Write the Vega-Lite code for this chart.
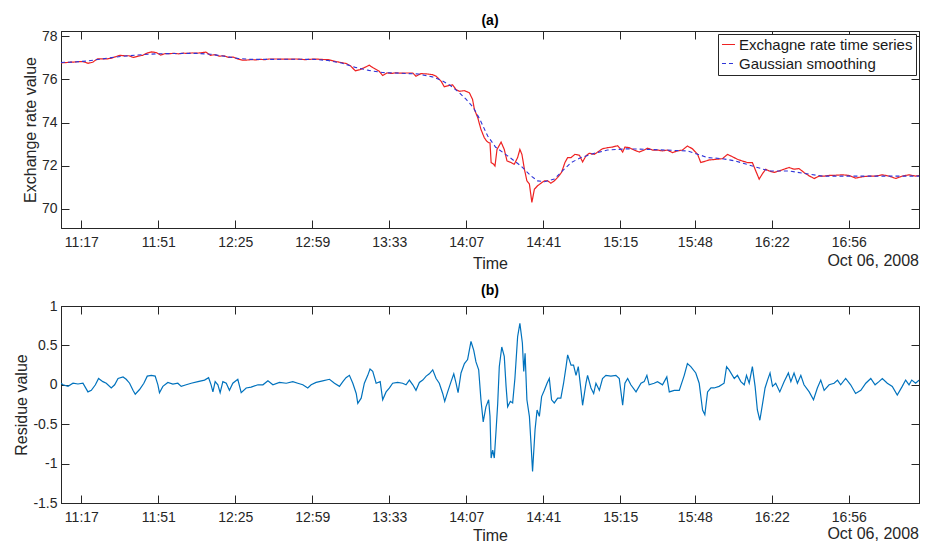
{
"$schema": "https://vega.github.io/schema/vega-lite/v6.json",
"padding": {"left": 13, "top": 13, "right": 6, "bottom": 0},
"background": "white",
"datasets": {
"rate": [
{"t":"11:08:00","v":76.77},{"t":"11:10:00","v":76.78},{"t":"11:12:00","v":76.80},{"t":"11:14:00","v":76.81},{"t":"11:16:00","v":76.83},{"t":"11:18:00","v":76.82},{"t":"11:20:00","v":76.75},{"t":"11:22:00","v":76.80},{"t":"11:24:00","v":76.95},{"t":"11:26:00","v":76.96},{"t":"11:28:00","v":76.95},{"t":"11:30:00","v":76.98},{"t":"11:32:00","v":77.05},{"t":"11:34:00","v":77.12},{"t":"11:36:00","v":77.10},{"t":"11:38:00","v":77.10},{"t":"11:40:00","v":77.02},{"t":"11:42:00","v":77.08},{"t":"11:44:00","v":77.12},{"t":"11:46:00","v":77.22},{"t":"11:48:00","v":77.28},{"t":"11:50:00","v":77.25},{"t":"11:52:00","v":77.13},{"t":"11:54:00","v":77.20},{"t":"11:56:00","v":77.20},{"t":"11:58:00","v":77.21},{"t":"12:00:00","v":77.19},{"t":"12:02:00","v":77.22},{"t":"12:04:00","v":77.21},{"t":"12:06:00","v":77.23},{"t":"12:08:00","v":77.22},{"t":"12:10:00","v":77.24},{"t":"12:12:00","v":77.27},{"t":"12:14:00","v":77.12},{"t":"12:16:00","v":77.15},{"t":"12:18:00","v":77.08},{"t":"12:20:00","v":77.10},{"t":"12:22:00","v":77.02},{"t":"12:24:00","v":77.04},{"t":"12:26:00","v":76.95},{"t":"12:28:00","v":76.90},{"t":"12:30:00","v":76.90},{"t":"12:32:00","v":76.92},{"t":"12:34:00","v":76.91},{"t":"12:36:00","v":76.93},{"t":"12:38:00","v":76.92},{"t":"12:40:00","v":76.95},{"t":"12:44:00","v":76.95},{"t":"12:48:00","v":76.94},{"t":"12:52:00","v":76.95},{"t":"12:56:00","v":76.92},{"t":"13:00:00","v":76.95},{"t":"13:03:00","v":76.93},{"t":"13:06:00","v":76.92},{"t":"13:09:00","v":76.84},{"t":"13:11:00","v":76.80},{"t":"13:14:00","v":76.74},{"t":"13:16:00","v":76.62},{"t":"13:18:00","v":76.40},{"t":"13:20:00","v":76.45},{"t":"13:22:00","v":76.55},{"t":"13:24:12","v":76.66},{"t":"13:25:42","v":76.55},{"t":"13:28:36","v":76.38},{"t":"13:30:06","v":76.18},{"t":"13:32:00","v":76.30},{"t":"13:34:00","v":76.28},{"t":"13:36:00","v":76.31},{"t":"13:38:00","v":76.29},{"t":"13:40:24","v":76.30},{"t":"13:43:24","v":76.30},{"t":"13:44:48","v":76.15},{"t":"13:47:00","v":76.27},{"t":"13:49:18","v":76.26},{"t":"13:52:12","v":76.22},{"t":"13:53:42","v":76.15},{"t":"13:55:54","v":75.92},{"t":"13:57:18","v":75.66},{"t":"13:59:30","v":75.72},{"t":"14:01:00","v":75.75},{"t":"14:02:30","v":75.53},{"t":"14:04:00","v":75.45},{"t":"14:06:12","v":75.48},{"t":"14:08:24","v":75.38},{"t":"14:09:48","v":75.07},{"t":"14:10:36","v":74.61},{"t":"14:12:06","v":74.22},{"t":"14:13:30","v":73.68},{"t":"14:15:00","v":73.29},{"t":"14:16:00","v":73.14},{"t":"14:16:54","v":73.06},{"t":"14:17:30","v":73.06},{"t":"14:18:00","v":72.14},{"t":"14:19:06","v":72.06},{"t":"14:19:42","v":71.98},{"t":"14:20:36","v":72.75},{"t":"14:22:24","v":73.09},{"t":"14:23:48","v":72.75},{"t":"14:25:00","v":72.22},{"t":"14:26:48","v":72.14},{"t":"14:28:12","v":72.06},{"t":"14:29:42","v":72.37},{"t":"14:30:42","v":72.75},{"t":"14:31:36","v":72.52},{"t":"14:32:42","v":71.83},{"t":"14:33:48","v":71.29},{"t":"14:34:54","v":71.14},{"t":"14:36:00","v":70.29},{"t":"14:37:06","v":70.90},{"t":"14:38:30","v":71.06},{"t":"14:40:00","v":71.18},{"t":"14:41:30","v":71.29},{"t":"14:43:00","v":71.29},{"t":"14:44:24","v":71.18},{"t":"14:45:54","v":71.29},{"t":"14:47:24","v":71.45},{"t":"14:49:06","v":71.68},{"t":"14:50:36","v":72.14},{"t":"14:51:48","v":72.37},{"t":"14:53:18","v":72.37},{"t":"14:55:00","v":72.52},{"t":"14:57:00","v":72.48},{"t":"14:58:24","v":72.17},{"t":"14:59:54","v":72.45},{"t":"15:01:18","v":72.57},{"t":"15:03:36","v":72.52},{"t":"15:05:48","v":72.68},{"t":"15:07:12","v":72.78},{"t":"15:09:24","v":72.83},{"t":"15:11:36","v":72.86},{"t":"15:13:54","v":72.92},{"t":"15:15:18","v":72.75},{"t":"15:16:06","v":72.63},{"t":"15:17:06","v":72.86},{"t":"15:19:00","v":72.83},{"t":"15:21:12","v":72.72},{"t":"15:23:24","v":72.63},{"t":"15:25:36","v":72.72},{"t":"15:27:06","v":72.81},{"t":"15:29:18","v":72.72},{"t":"15:31:30","v":72.72},{"t":"15:33:42","v":72.68},{"t":"15:35:54","v":72.72},{"t":"15:38:06","v":72.60},{"t":"15:40:18","v":72.68},{"t":"15:42:30","v":72.72},{"t":"15:44:42","v":72.91},{"t":"15:46:54","v":72.78},{"t":"15:49:12","v":72.52},{"t":"15:50:36","v":72.14},{"t":"15:52:48","v":72.21},{"t":"15:54:18","v":72.26},{"t":"15:57:18","v":72.29},{"t":"16:00:12","v":72.32},{"t":"16:02:24","v":72.52},{"t":"16:04:36","v":72.41},{"t":"16:06:48","v":72.29},{"t":"16:09:00","v":72.21},{"t":"16:11:12","v":72.14},{"t":"16:13:24","v":72.14},{"t":"16:14:54","v":71.75},{"t":"16:16:24","v":71.37},{"t":"16:17:54","v":71.63},{"t":"16:19:18","v":71.83},{"t":"16:20:48","v":71.75},{"t":"16:23:00","v":71.68},{"t":"16:25:12","v":71.75},{"t":"16:27:24","v":71.83},{"t":"16:29:36","v":71.91},{"t":"16:31:48","v":71.83},{"t":"16:34:00","v":71.86},{"t":"16:36:12","v":71.68},{"t":"16:38:30","v":71.52},{"t":"16:40:42","v":71.40},{"t":"16:42:54","v":71.51},{"t":"16:45:06","v":71.51},{"t":"16:47:18","v":71.54},{"t":"16:50:12","v":71.55},{"t":"16:53:12","v":71.57},{"t":"16:56:06","v":71.54},{"t":"16:59:00","v":71.42},{"t":"17:02:00","v":71.48},{"t":"17:04:54","v":71.51},{"t":"17:07:54","v":71.51},{"t":"17:10:48","v":71.57},{"t":"17:13:48","v":71.51},{"t":"17:16:42","v":71.40},{"t":"17:19:36","v":71.51},{"t":"17:22:36","v":71.57},{"t":"17:25:30","v":71.51},{"t":"17:27:00","v":71.54}
],
"smooth": [
{"t":"11:08:00","v":76.79},{"t":"11:14:00","v":76.81},{"t":"11:20:00","v":76.86},{"t":"11:26:00","v":76.95},{"t":"11:32:00","v":77.04},{"t":"11:38:00","v":77.10},{"t":"11:44:00","v":77.15},{"t":"11:50:00","v":77.19},{"t":"11:56:00","v":77.20},{"t":"12:02:00","v":77.21},{"t":"12:08:00","v":77.21},{"t":"12:14:00","v":77.17},{"t":"12:20:00","v":77.08},{"t":"12:26:00","v":76.98},{"t":"12:32:00","v":76.93},{"t":"12:40:00","v":76.93},{"t":"12:50:00","v":76.94},{"t":"13:00:00","v":76.93},{"t":"13:06:00","v":76.88},{"t":"13:12:00","v":76.76},{"t":"13:18:00","v":76.56},{"t":"13:24:00","v":76.42},{"t":"13:30:00","v":76.32},{"t":"13:38:00","v":76.29},{"t":"13:46:00","v":76.25},{"t":"13:52:00","v":76.12},{"t":"13:56:00","v":75.96},{"t":"14:00:00","v":75.72},{"t":"14:04:00","v":75.38},{"t":"14:07:00","v":75.07},{"t":"14:10:00","v":74.72},{"t":"14:13:00","v":74.15},{"t":"14:16:30","v":73.37},{"t":"14:20:00","v":72.85},{"t":"14:25:18","v":72.45},{"t":"14:31:12","v":71.98},{"t":"14:35:36","v":71.52},{"t":"14:38:30","v":71.29},{"t":"14:41:30","v":71.25},{"t":"14:45:54","v":71.37},{"t":"14:48:48","v":71.68},{"t":"14:53:18","v":72.14},{"t":"14:57:42","v":72.37},{"t":"15:03:36","v":72.57},{"t":"15:09:24","v":72.72},{"t":"15:18:18","v":72.78},{"t":"15:30:00","v":72.74},{"t":"15:44:42","v":72.68},{"t":"15:50:36","v":72.48},{"t":"15:53:36","v":72.37},{"t":"16:00:12","v":72.32},{"t":"16:06:00","v":72.21},{"t":"16:13:24","v":71.98},{"t":"16:20:48","v":71.75},{"t":"16:29:36","v":71.75},{"t":"16:38:30","v":71.60},{"t":"16:44:24","v":71.51},{"t":"17:00:00","v":71.51},{"t":"17:27:00","v":71.51}
],
"residue": [
{"t":"11:08:00","v":0.02},{"t":"11:08:54","v":0.00},{"t":"11:11:06","v":-0.02},{"t":"11:13:18","v":0.02},{"t":"11:15:30","v":0.01},{"t":"11:17:42","v":0.02},{"t":"11:19:54","v":-0.09},{"t":"11:21:24","v":-0.07},{"t":"11:23:12","v":0.00},{"t":"11:24:36","v":0.08},{"t":"11:26:30","v":0.04},{"t":"11:28:00","v":0.02},{"t":"11:30:12","v":-0.04},{"t":"11:31:42","v":0.00},{"t":"11:33:12","v":0.08},{"t":"11:35:24","v":0.10},{"t":"11:36:48","v":0.07},{"t":"11:38:18","v":0.02},{"t":"11:39:48","v":-0.07},{"t":"11:40:48","v":-0.12},{"t":"11:42:42","v":-0.06},{"t":"11:44:36","v":0.02},{"t":"11:46:06","v":0.11},{"t":"11:47:54","v":0.12},{"t":"11:49:36","v":0.11},{"t":"11:50:48","v":0.00},{"t":"11:51:30","v":-0.10},{"t":"11:53:00","v":-0.02},{"t":"11:55:12","v":0.03},{"t":"11:57:24","v":0.01},{"t":"11:59:36","v":0.02},{"t":"12:01:06","v":-0.02},{"t":"12:03:18","v":0.00},{"t":"12:05:30","v":0.02},{"t":"12:08:30","v":0.04},{"t":"12:11:24","v":0.06},{"t":"12:13:12","v":0.09},{"t":"12:14:18","v":0.00},{"t":"12:15:06","v":-0.09},{"t":"12:16:06","v":0.04},{"t":"12:17:18","v":0.00},{"t":"12:18:18","v":-0.10},{"t":"12:19:30","v":0.04},{"t":"12:21:00","v":0.02},{"t":"12:22:24","v":-0.07},{"t":"12:23:54","v":0.02},{"t":"12:26:06","v":0.07},{"t":"12:27:36","v":-0.10},{"t":"12:29:48","v":-0.04},{"t":"12:32:00","v":-0.03},{"t":"12:35:00","v":0.00},{"t":"12:37:12","v":0.00},{"t":"12:39:24","v":0.05},{"t":"12:41:36","v":0.00},{"t":"12:44:30","v":0.03},{"t":"12:47:30","v":0.02},{"t":"12:50:24","v":0.04},{"t":"12:52:36","v":0.02},{"t":"12:54:48","v":0.00},{"t":"12:57:00","v":-0.04},{"t":"12:58:30","v":0.00},{"t":"13:00:42","v":0.03},{"t":"13:03:36","v":0.05},{"t":"13:06:36","v":0.07},{"t":"13:08:48","v":0.02},{"t":"13:11:00","v":-0.02},{"t":"13:12:30","v":0.04},{"t":"13:13:54","v":0.09},{"t":"13:15:24","v":0.12},{"t":"13:16:54","v":0.02},{"t":"13:18:24","v":-0.11},{"t":"13:19:06","v":-0.235},{"t":"13:20:36","v":-0.17},{"t":"13:22:00","v":0.02},{"t":"13:23:30","v":0.12},{"t":"13:24:30","v":0.20},{"t":"13:25:42","v":0.17},{"t":"13:27:12","v":0.02},{"t":"13:29:00","v":0.04},{"t":"13:30:06","v":-0.19},{"t":"13:31:36","v":-0.09},{"t":"13:33:06","v":-0.04},{"t":"13:34:30","v":0.02},{"t":"13:36:42","v":0.03},{"t":"13:38:54","v":0.02},{"t":"13:40:24","v":0.00},{"t":"13:41:54","v":0.06},{"t":"13:43:24","v":0.00},{"t":"13:44:48","v":-0.07},{"t":"13:46:18","v":0.03},{"t":"13:47:48","v":0.06},{"t":"13:49:18","v":0.11},{"t":"13:50:42","v":0.14},{"t":"13:52:12","v":0.19},{"t":"13:53:42","v":0.08},{"t":"13:55:06","v":0.02},{"t":"13:56:36","v":-0.11},{"t":"13:57:30","v":-0.21},{"t":"13:58:48","v":-0.09},{"t":"14:00:18","v":0.04},{"t":"14:01:30","v":0.14},{"t":"14:02:30","v":0.02},{"t":"14:03:24","v":-0.10},{"t":"14:04:42","v":0.15},{"t":"14:06:12","v":0.27},{"t":"14:07:36","v":0.32},{"t":"14:09:06","v":0.55},{"t":"14:10:18","v":0.44},{"t":"14:11:18","v":0.29},{"t":"14:12:30","v":0.19},{"t":"14:13:30","v":-0.19},{"t":"14:14:30","v":-0.47},{"t":"14:15:42","v":-0.28},{"t":"14:16:54","v":-0.19},{"t":"14:17:30","v":-0.40},{"t":"14:18:00","v":-0.93},{"t":"14:18:42","v":-0.83},{"t":"14:19:24","v":-0.93},{"t":"14:20:12","v":-0.57},{"t":"14:20:54","v":-0.24},{"t":"14:21:36","v":0.23},{"t":"14:22:42","v":0.48},{"t":"14:23:48","v":0.36},{"t":"14:24:36","v":-0.02},{"t":"14:25:18","v":-0.28},{"t":"14:26:30","v":-0.21},{"t":"14:27:30","v":-0.23},{"t":"14:28:30","v":0.08},{"t":"14:29:42","v":0.61},{"t":"14:30:42","v":0.78},{"t":"14:31:48","v":0.53},{"t":"14:32:24","v":0.17},{"t":"14:33:00","v":0.40},{"t":"14:33:48","v":-0.19},{"t":"14:34:54","v":-0.40},{"t":"14:35:36","v":-0.74},{"t":"14:36:18","v":-1.10},{"t":"14:37:24","v":-0.57},{"t":"14:38:18","v":-0.32},{"t":"14:39:18","v":-0.40},{"t":"14:40:18","v":-0.15},{"t":"14:41:30","v":-0.07},{"t":"14:42:42","v":0.02},{"t":"14:43:42","v":0.08},{"t":"14:44:42","v":-0.19},{"t":"14:45:54","v":-0.23},{"t":"14:47:24","v":-0.17},{"t":"14:48:48","v":-0.17},{"t":"14:50:00","v":0.02},{"t":"14:51:06","v":0.23},{"t":"14:51:48","v":0.38},{"t":"14:53:18","v":0.25},{"t":"14:54:24","v":0.25},{"t":"14:55:30","v":0.12},{"t":"14:56:30","v":0.23},{"t":"14:57:42","v":-0.07},{"t":"14:58:24","v":-0.26},{"t":"14:59:54","v":0.02},{"t":"15:00:36","v":0.12},{"t":"15:02:06","v":-0.04},{"t":"15:03:18","v":-0.11},{"t":"15:04:18","v":0.02},{"t":"15:05:48","v":-0.07},{"t":"15:07:12","v":0.08},{"t":"15:08:42","v":0.12},{"t":"15:10:54","v":0.11},{"t":"15:13:06","v":0.12},{"t":"15:14:36","v":0.08},{"t":"15:16:06","v":-0.26},{"t":"15:17:06","v":0.02},{"t":"15:18:18","v":0.08},{"t":"15:19:42","v":0.00},{"t":"15:22:00","v":-0.09},{"t":"15:24:12","v":0.02},{"t":"15:25:36","v":0.04},{"t":"15:26:48","v":0.12},{"t":"15:27:48","v":0.00},{"t":"15:30:00","v":0.02},{"t":"15:31:30","v":0.04},{"t":"15:33:42","v":0.00},{"t":"15:35:36","v":0.10},{"t":"15:36:42","v":-0.09},{"t":"15:38:54","v":-0.07},{"t":"15:41:06","v":-0.07},{"t":"15:43:18","v":0.12},{"t":"15:44:42","v":0.27},{"t":"15:46:12","v":0.23},{"t":"15:48:24","v":0.15},{"t":"15:49:54","v":0.02},{"t":"15:51:24","v":-0.32},{"t":"15:52:24","v":-0.38},{"t":"15:53:36","v":-0.09},{"t":"15:55:06","v":-0.04},{"t":"15:56:30","v":-0.04},{"t":"15:58:42","v":-0.02},{"t":"16:00:54","v":0.02},{"t":"16:02:00","v":0.23},{"t":"16:03:06","v":0.19},{"t":"16:05:24","v":0.08},{"t":"16:06:48","v":0.12},{"t":"16:08:18","v":0.04},{"t":"16:09:48","v":0.00},{"t":"16:10:48","v":0.12},{"t":"16:12:00","v":0.02},{"t":"16:13:24","v":0.23},{"t":"16:14:36","v":-0.02},{"t":"16:15:36","v":-0.32},{"t":"16:16:42","v":-0.45},{"t":"16:17:54","v":-0.24},{"t":"16:19:00","v":-0.04},{"t":"16:20:06","v":0.06},{"t":"16:21:12","v":0.15},{"t":"16:22:18","v":-0.02},{"t":"16:23:42","v":0.02},{"t":"16:25:30","v":-0.09},{"t":"16:27:24","v":0.04},{"t":"16:29:18","v":0.15},{"t":"16:30:24","v":0.04},{"t":"16:31:48","v":0.15},{"t":"16:33:18","v":0.02},{"t":"16:34:48","v":0.12},{"t":"16:36:12","v":0.00},{"t":"16:38:30","v":-0.09},{"t":"16:40:24","v":-0.19},{"t":"16:42:06","v":-0.04},{"t":"16:43:36","v":0.06},{"t":"16:45:06","v":-0.07},{"t":"16:47:18","v":0.00},{"t":"16:49:30","v":0.02},{"t":"16:51:00","v":0.06},{"t":"16:52:24","v":0.00},{"t":"16:54:36","v":0.08},{"t":"16:56:48","v":0.00},{"t":"16:59:00","v":-0.11},{"t":"17:01:18","v":-0.07},{"t":"17:03:30","v":0.02},{"t":"17:05:42","v":0.08},{"t":"17:07:36","v":0.00},{"t":"17:09:18","v":0.04},{"t":"17:10:48","v":0.08},{"t":"17:13:00","v":0.02},{"t":"17:15:12","v":-0.02},{"t":"17:17:24","v":-0.13},{"t":"17:19:36","v":-0.02},{"t":"17:21:06","v":0.06},{"t":"17:22:36","v":0.00},{"t":"17:23:48","v":0.06},{"t":"17:25:30","v":0.02},{"t":"17:27:00","v":0.06}
]
},
"vconcat": [
{
"title": {"text": "(a)"},
"width": 858,
"height": 197,
"layer": [
{
"data": {"name": "rate", "format": {"parse": {"t": "utc:'%H:%M:%S'"}}},
"mark": {"type": "line", "strokeWidth": 1.2, "clip": true},
"encoding": {
"x": {"field": "t", "type": "temporal",
"scale": {"type": "utc", "domain": [{"year":1900,"month":1,"date":1,"hours":11,"minutes":8,"utc":true},{"year":1900,"month":1,"date":1,"hours":17,"minutes":27,"utc":true}]},
"axis": {"title": "Time", "labelExpr": "utcFormat(datum.value, '%H:%M')", "values": [{"year":1900,"month":1,"date":1,"hours":11,"minutes":17,"utc":true},{"year":1900,"month":1,"date":1,"hours":11,"minutes":51,"utc":true},{"year":1900,"month":1,"date":1,"hours":12,"minutes":25,"utc":true},{"year":1900,"month":1,"date":1,"hours":12,"minutes":59,"utc":true},{"year":1900,"month":1,"date":1,"hours":13,"minutes":33,"utc":true},{"year":1900,"month":1,"date":1,"hours":14,"minutes":7,"utc":true},{"year":1900,"month":1,"date":1,"hours":14,"minutes":41,"utc":true},{"year":1900,"month":1,"date":1,"hours":15,"minutes":15,"utc":true},{"year":1900,"month":1,"date":1,"hours":15,"minutes":48,"utc":true},{"year":1900,"month":1,"date":1,"hours":16,"minutes":22,"utc":true},{"year":1900,"month":1,"date":1,"hours":16,"minutes":56,"utc":true}]}},
"y": {"field": "v", "type": "quantitative", "scale": {"domain": [69.1, 78.25], "nice": false, "zero": false},
"axis": {"title": "Exchange rate value", "values": [70, 72, 74, 76, 78]}},
"color": {"datum": "Exchagne rate time series", "type": "nominal",
"scale": {"domain": ["Exchagne rate time series", "Gaussian smoothing"], "range": ["#ee2222", "#2f35d8"]},
"legend": {"title": null, "orient": "top-right", "offset": 3, "padding": 3, "strokeColor": "#262626", "fillColor": "white", "labelFontSize": 15, "labelLimit": 0, "labelColor": "#1a1a1a", "symbolType": "stroke", "symbolSize": 170, "symbolStrokeWidth": 1.2, "rowPadding": 3, "labelOffset": 3, "cornerRadius": 0}},
"strokeDash": {"datum": "Exchagne rate time series", "type": "nominal",
"scale": {"domain": ["Exchagne rate time series", "Gaussian smoothing"], "range": [[1, 0], [4, 3]]}}
}
},
{
"data": {"name": "smooth", "format": {"parse": {"t": "utc:'%H:%M:%S'"}}},
"mark": {"type": "line", "strokeWidth": 1.1, "clip": true},
"encoding": {
"x": {"field": "t", "type": "temporal", "axis": null},
"y": {"field": "v", "type": "quantitative", "axis": null},
"color": {"datum": "Gaussian smoothing", "type": "nominal"},
"strokeDash": {"datum": "Gaussian smoothing", "type": "nominal"}
}
},
{
"data": {"values": [{"t": "17:27:00", "v": 67.56, "lab": "Oct 06, 2008"}], "format": {"parse": {"t": "utc:'%H:%M:%S'"}}},
"mark": {"type": "text", "align": "right", "baseline": "middle", "fontSize": 16, "fill": "#262626"},
"encoding": {
"x": {"field": "t", "type": "temporal", "axis": {"orient": "top", "labels": false, "title": null, "values": [{"year":1900,"month":1,"date":1,"hours":11,"minutes":17,"utc":true},{"year":1900,"month":1,"date":1,"hours":11,"minutes":51,"utc":true},{"year":1900,"month":1,"date":1,"hours":12,"minutes":25,"utc":true},{"year":1900,"month":1,"date":1,"hours":12,"minutes":59,"utc":true},{"year":1900,"month":1,"date":1,"hours":13,"minutes":33,"utc":true},{"year":1900,"month":1,"date":1,"hours":14,"minutes":7,"utc":true},{"year":1900,"month":1,"date":1,"hours":14,"minutes":41,"utc":true},{"year":1900,"month":1,"date":1,"hours":15,"minutes":15,"utc":true},{"year":1900,"month":1,"date":1,"hours":15,"minutes":48,"utc":true},{"year":1900,"month":1,"date":1,"hours":16,"minutes":22,"utc":true},{"year":1900,"month":1,"date":1,"hours":16,"minutes":56,"utc":true}]}},
"y": {"field": "v", "type": "quantitative", "axis": {"orient": "right", "labels": false, "title": null, "values": [70, 72, 74, 76, 78]}},
"text": {"field": "lab"}
}
}
],
"resolve": {"axis": {"x": "independent", "y": "independent"}}
},
{
"title": {"text": "(b)"},
"width": 858,
"height": 197,
"layer": [
{
"data": {"name": "residue", "format": {"parse": {"t": "utc:'%H:%M:%S'"}}},
"mark": {"type": "line", "strokeWidth": 1.2, "color": "#0072bd", "clip": true},
"encoding": {
"x": {"field": "t", "type": "temporal",
"scale": {"type": "utc", "domain": [{"year":1900,"month":1,"date":1,"hours":11,"minutes":8,"utc":true},{"year":1900,"month":1,"date":1,"hours":17,"minutes":27,"utc":true}]},
"axis": {"title": "Time", "titlePadding": 3, "labelExpr": "utcFormat(datum.value, '%H:%M')", "values": [{"year":1900,"month":1,"date":1,"hours":11,"minutes":17,"utc":true},{"year":1900,"month":1,"date":1,"hours":11,"minutes":51,"utc":true},{"year":1900,"month":1,"date":1,"hours":12,"minutes":25,"utc":true},{"year":1900,"month":1,"date":1,"hours":12,"minutes":59,"utc":true},{"year":1900,"month":1,"date":1,"hours":13,"minutes":33,"utc":true},{"year":1900,"month":1,"date":1,"hours":14,"minutes":7,"utc":true},{"year":1900,"month":1,"date":1,"hours":14,"minutes":41,"utc":true},{"year":1900,"month":1,"date":1,"hours":15,"minutes":15,"utc":true},{"year":1900,"month":1,"date":1,"hours":15,"minutes":48,"utc":true},{"year":1900,"month":1,"date":1,"hours":16,"minutes":22,"utc":true},{"year":1900,"month":1,"date":1,"hours":16,"minutes":56,"utc":true}]}},
"y": {"field": "v", "type": "quantitative", "scale": {"domain": [-1.5, 1], "nice": false, "zero": false},
"axis": {"title": "Residue value", "values": [-1.5, -1, -0.5, 0, 0.5, 1], "labelExpr": "'' + datum.value"}}
}
},
{
"data": {"values": [{"t": "17:27:00", "v": -1.89, "lab": "Oct 06, 2008"}], "format": {"parse": {"t": "utc:'%H:%M:%S'"}}},
"mark": {"type": "text", "align": "right", "baseline": "middle", "fontSize": 16, "fill": "#262626"},
"encoding": {
"x": {"field": "t", "type": "temporal", "axis": {"orient": "top", "labels": false, "title": null, "values": [{"year":1900,"month":1,"date":1,"hours":11,"minutes":17,"utc":true},{"year":1900,"month":1,"date":1,"hours":11,"minutes":51,"utc":true},{"year":1900,"month":1,"date":1,"hours":12,"minutes":25,"utc":true},{"year":1900,"month":1,"date":1,"hours":12,"minutes":59,"utc":true},{"year":1900,"month":1,"date":1,"hours":13,"minutes":33,"utc":true},{"year":1900,"month":1,"date":1,"hours":14,"minutes":7,"utc":true},{"year":1900,"month":1,"date":1,"hours":14,"minutes":41,"utc":true},{"year":1900,"month":1,"date":1,"hours":15,"minutes":15,"utc":true},{"year":1900,"month":1,"date":1,"hours":15,"minutes":48,"utc":true},{"year":1900,"month":1,"date":1,"hours":16,"minutes":22,"utc":true},{"year":1900,"month":1,"date":1,"hours":16,"minutes":56,"utc":true}]}},
"y": {"field": "v", "type": "quantitative", "axis": {"orient": "right", "labels": false, "title": null, "values": [-1.5, -1, -0.5, 0, 0.5, 1]}},
"text": {"field": "lab"}
}
}
],
"resolve": {"axis": {"x": "independent", "y": "independent"}}
}
],
"spacing": 11,
"config": {
"font": "Liberation Sans",
"view": {"stroke": "#262626", "strokeWidth": 1},
"title": {"fontSize": 14, "fontWeight": "bold", "color": "#000000", "offset": 1, "anchor": "middle"},
"axis": {"grid": false, "domainColor": "#262626", "tickColor": "#262626", "tickSize": -8, "labelFontSize": 14, "labelColor": "#262626", "titleFontSize": 16, "titleFontWeight": "normal", "titleColor": "#262626"},
"axisX": {"labelPadding": 15, "titlePadding": 6},
"axisY": {"labelPadding": 12, "titlePadding": 3}
}
}
